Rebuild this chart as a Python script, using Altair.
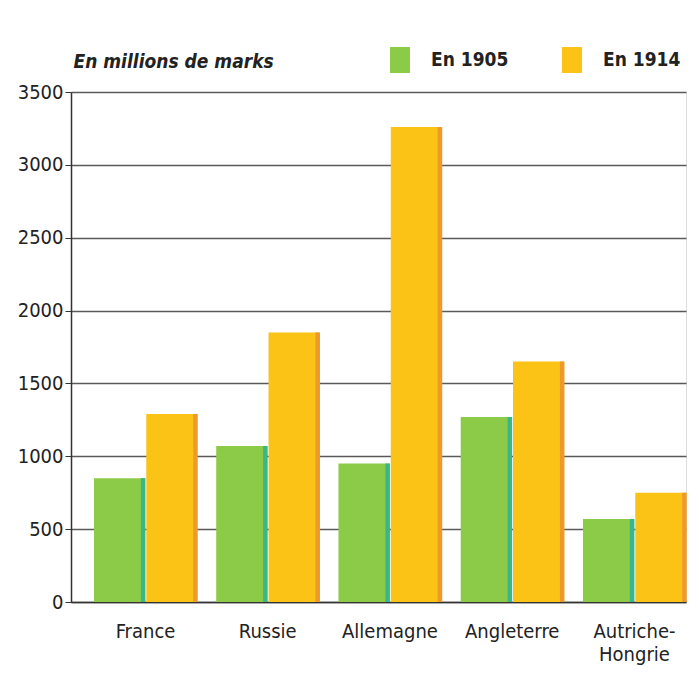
import altair as alt
import pandas as pd

countries = ["France", "Russie", "Allemagne", "Angleterre", "Autriche-Hongrie"]
years = ["En 1905", "En 1914"]
values_1905 = [850, 1070, 950, 1270, 570]
values_1914 = [1290, 1850, 3260, 1650, 750]

rows = []
for c, v in zip(countries, values_1905):
    rows.append({"pays": c, "annee": years[0], "valeur": v})
for c, v in zip(countries, values_1914):
    rows.append({"pays": c, "annee": years[1], "valeur": v})
df = pd.DataFrame(rows)

main_colors = ["#8CCB47", "#FBC315"]
edge_colors = ["#3BB58A", "#EE9A2A"]

FONT = "DejaVu Sans Condensed"

x = alt.X(
    "pays:N",
    sort=countries,
    title=None,
    scale=alt.Scale(paddingInner=0.157, paddingOuter=0.094, align=1),
    axis=alt.Axis(
        labelAngle=0,
        ticks=False,
        domain=True,
        domainColor="#333333",
        domainWidth=1.5,
        labelFont=FONT,
        labelFontSize=20,
        labelColor="#222222",
        labelPadding=19,
        labelLineHeight=23,
        labelExpr="datum.label == 'Autriche-Hongrie' ? ['Autriche-', 'Hongrie'] : datum.label",
    ),
)
xo = alt.XOffset("annee:N", sort=years, scale=alt.Scale(paddingInner=0.03))
y = alt.Y(
    "valeur:Q",
    scale=alt.Scale(domain=[0, 3500]),
    axis=alt.Axis(
        values=[0, 500, 1000, 1500, 2000, 2500, 3000, 3500],
        format="d",
        grid=True,
        gridColor="#5a5a5a",
        gridWidth=1.3,
        domain=True,
        domainColor="#333333",
        domainWidth=1.5,
        ticks=True,
        tickSize=6,
        tickColor="#333333",
        labelFont=FONT,
        labelFontSize=20,
        labelColor="#222222",
        labelPadding=2,
        title="En millions de marks",
        titleAngle=0,
        titleAlign="left",
        titleBaseline="alphabetic",
        titleX=2,
        titleY=-25,
        titleFont=FONT,
        titleFontSize=19,
        titleFontStyle="italic",
        titleFontWeight="bold",
        titleColor="#222222",
    ),
)

bars = alt.Chart(df).mark_bar().encode(
    x=x,
    xOffset=xo,
    y=y,
    color=alt.Color(
        "annee:N",
        sort=years,
        scale=alt.Scale(domain=years, range=main_colors),
        legend=alt.Legend(
            title=None,
            orient="none",
            legendX=316,
            legendY=-45,
            direction="horizontal",
            symbolType="M-0.77,-1H0.77V1H-0.77Z",
            symbolSize=676,
            symbolStrokeWidth=0,
            labelFont=FONT,
            labelFontSize=19,
            labelFontWeight="bold",
            labelColor="#222222",
            labelOffset=18,
            columnPadding=50,
        ),
    ),
)

edges = alt.Chart(df).mark_bar(width=alt.RelativeBandSize(0.09)).encode(
    x=x,
    xOffset=xo,
    y=y,
    color=alt.Color("annee:N", sort=years, scale=alt.Scale(domain=years, range=edge_colors), legend=None),
)

chart = (
    alt.layer(bars, edges)
    .resolve_scale(color="independent")
    .properties(
        width=615,
        height=510,
        autosize=alt.AutoSizeParams(type="none"),
        padding={"left": 63, "top": 84, "right": 5, "bottom": 70},
    )
    .configure_view(stroke=None)
    .configure(background="#ffffff")
)

chart.save("out.html", embed_options={"renderer": "svg", "actions": False})
